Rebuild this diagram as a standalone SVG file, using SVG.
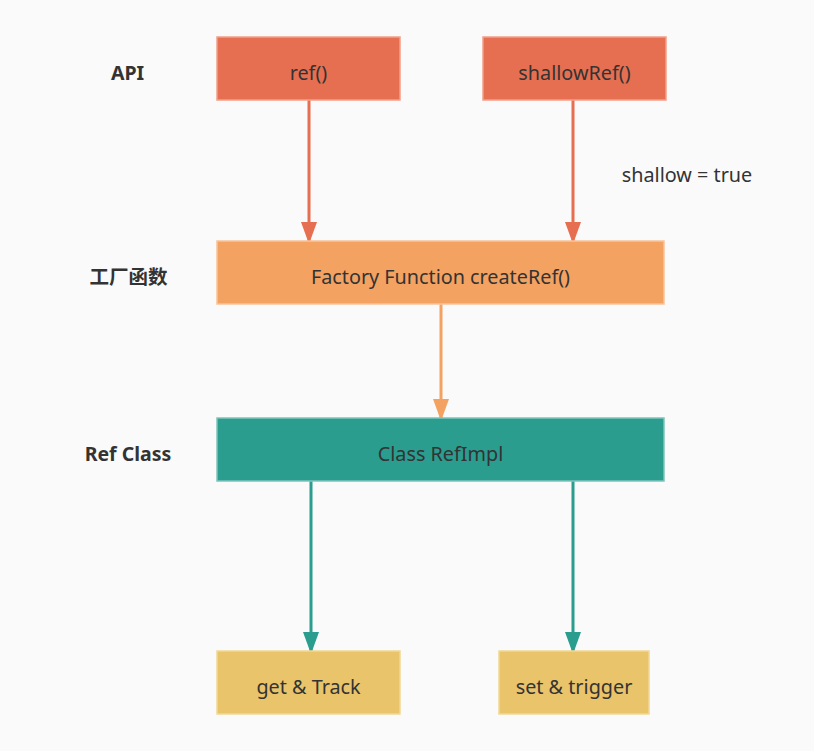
<svg xmlns="http://www.w3.org/2000/svg" width="814" height="751" viewBox="0 0 814 751">
<style>
text{font-family:"Noto Sans","Noto Sans CJK SC",sans-serif;fill:#333;font-size:19.8px;text-anchor:middle;dominant-baseline:central}
.lbl{font-weight:bold;font-size:19.5px}
.red{fill:#e76f51;stroke:#f1a08a;stroke-width:1.5}
.org{fill:#f4a261;stroke:#f8c39a;stroke-width:1.5}
.teal{fill:#2a9d8f;stroke:#7fc4bb;stroke-width:1.5}
.yel{fill:#e9c46a;stroke:#f1d897;stroke-width:1.5}
</style>
<defs>
<marker id="ar" viewBox="0 0 16 22" refX="8" refY="22" markerWidth="16" markerHeight="22" markerUnits="userSpaceOnUse"><path d="M0 0L16 0L8 22Z" fill="#e76f51"/></marker>
<marker id="ao" viewBox="0 0 16 22" refX="8" refY="22" markerWidth="16" markerHeight="22" markerUnits="userSpaceOnUse"><path d="M0 0L16 0L8 22Z" fill="#f4a261"/></marker>
<marker id="at" viewBox="0 0 16 22" refX="8" refY="22" markerWidth="16" markerHeight="22" markerUnits="userSpaceOnUse"><path d="M0 0L16 0L8 22Z" fill="#2a9d8f"/></marker>
</defs>
<rect width="814" height="751" fill="#fafafa"/>
<text class="lbl" x="127.5" y="72">API</text>
<text class="lbl" x="128.5" y="276">工厂函数</text>
<text class="lbl" x="128" y="453">Ref Class</text>
<g id="connectors" fill="none" stroke-width="3">
<path d="M309 100V244" stroke="#e76f51" marker-end="url(#ar)"/>
<path d="M573 100V244" stroke="#e76f51" marker-end="url(#ar)"/>
<path d="M441 304V421" stroke="#f4a261" marker-end="url(#ao)"/>
<path d="M311 481V654" stroke="#2a9d8f" marker-end="url(#at)"/>
<path d="M573 481V654" stroke="#2a9d8f" marker-end="url(#at)"/>
</g>
<text x="687" y="174">shallow = true</text>
<g id="ref"><rect class="red" x="217" y="37" width="183" height="63"/><text x="308.5" y="72">ref()</text></g>
<g id="shallowRef"><rect class="red" x="483" y="37" width="183" height="63"/><text x="574.5" y="72">shallowRef()</text></g>
<g id="createRef"><rect class="org" x="217" y="241" width="447" height="63"/><text x="440.5" y="276">Factory Function createRef()</text></g>
<g id="RefImpl"><rect class="teal" x="217" y="418" width="447" height="63"/><text x="440.5" y="453">Class RefImpl</text></g>
<g id="getTrack"><rect class="yel" x="217" y="651" width="183" height="63"/><text x="308.5" y="686">get &amp; Track</text></g>
<g id="setTrigger"><rect class="yel" x="499" y="651" width="150" height="63"/><text x="574" y="686">set &amp; trigger</text></g>
</svg>
